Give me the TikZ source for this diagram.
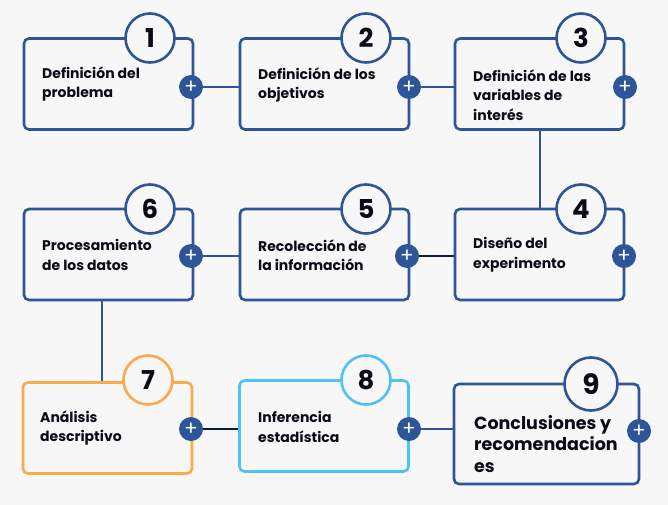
\documentclass[tikz,border=0pt]{standalone}
\usepackage{fontspec}
\setmainfont{Poppins}
\definecolor{bg}{HTML}{F7F7F7}
\definecolor{bl}{HTML}{2E5597}
\definecolor{nv}{HTML}{0D1A3C}
\definecolor{orng}{HTML}{FBAA4A}
\definecolor{lbl}{HTML}{4EC1F5}
\definecolor{txt}{HTML}{0B0B16}
\tikzset{
  box/.style={draw=bl, line width=2.6pt, rounded corners=5pt, minimum width=169pt, minimum height=91pt, inner sep=0pt},
  numc/.style={circle, draw=bl, fill=bg, line width=2.6pt, minimum size=49pt, inner sep=0pt, font=\fontsize{26}{26}\selectfont\bfseries, text=txt},
  plusc/.style={circle, fill=bl, minimum size=24pt, inner sep=0pt, text=white, font=\fontsize{20}{20}\selectfont},
  lab/.style={anchor=west, align=left, inner sep=0pt, text=txt, font=\fontsize{14}{19.5}\selectfont\bfseries},
  link/.style={draw=bl, line width=2.6pt},
  dlink/.style={draw=nv, line width=2.8pt}
}
\begin{document}
\begin{tikzpicture}[x=1pt,y=-1pt]
\useasboundingbox[fill=bg] (0,0) rectangle (668,505);
% row 1
\node[box] (b1) at (108.5,84) {};
\node[box] (b2) at (324.5,84) {};
\node[box] (b3) at (539.5,84) {};
% row 2
\node[box] (b6) at (108.5,254.5) {};
\node[box] (b5) at (324.5,254.5) {};
\node[box] (b4) at (539.5,254.5) {};
% row 3
\node[box, draw=orng] (b7) at (107.5,428) {};
\node[box, draw=lbl] (b8) at (324,426) {};
\node[box, minimum width=185pt, minimum height=100pt] (b9) at (546.5,434) {};
% connectors
\draw[link] (b3.south) ++(0.5,0) coordinate (c3) -- (c3 |- b4.north);
\draw[link] (b6.south) ++(-6.5,0) coordinate (c6) -- (c6 |- b7.north);
% labels
\node[lab] (t1) at (42,84) {Definición del\\problema};
\node[lab] (t2) at (258,85) {Definición de los\\objetivos};
\node[lab] (t3) at (473,95) {Definición de las\\variables de\\interés};
\node[lab] (t4) at (473,255) {Diseño del\\experimento};
\node[lab] (t5) at (258,255) {Recolección de\\la información};
\node[lab] (t6) at (42,255) {Procesamiento\\de los datos};
\node[lab] (t7) at (40,428) {Análisis\\descriptivo};
\node[lab] (t8) at (258,427) {Inferencia\\estadística};
\node[lab, font=\fontsize{17.5}{21.5}\selectfont\bfseries] (t9) at (474,444) {Conclusiones y\\recomendacion\\es};
% number circles
\node[numc] (n1) at (150,38) {1};
\node[numc] (n2) at (366,38) {2};
\node[numc] (n3) at (581,38) {3};
\node[numc] (n4) at (581,209) {4};
\node[numc] (n5) at (366,209) {5};
\node[numc] (n6) at (150,209) {6};
\node[numc, draw=orng] (n7) at (148,380) {7};
\node[numc, draw=lbl] (n8) at (366,380) {8};
\node[numc, minimum size=53pt, font=\fontsize{28}{28}\selectfont\bfseries] (n9) at (591,384) {9};
% plus circles
\node[plusc] (p1) at (191,87) {+};
\node[plusc] (p2) at (409,87) {+};
\node[plusc] (p3) at (625,87) {+};
\node[plusc] (p4) at (624,256) {+};
\node[plusc] (p5) at (407,256) {+};
\node[plusc] (p6) at (191,256) {+};
\node[plusc] (p7) at (191,429) {+};
\node[plusc] (p8) at (409,429) {+};
\node[plusc] (p9) at (639,431) {+};
\draw[link] (p1.east) -- (p1.east -| b2.west);
\draw[link] (p2.east) -- (p2.east -| b3.west);
\draw[link] (p6.east) -- (p6.east -| b5.west);
\draw[dlink] (p5.east) -- (p5.east -| b4.west);
\draw[dlink] (p7.east) -- (p7.east -| b8.west);
\draw[link] (p8.east) -- (p8.east -| b9.west);
\end{tikzpicture}
\end{document}
